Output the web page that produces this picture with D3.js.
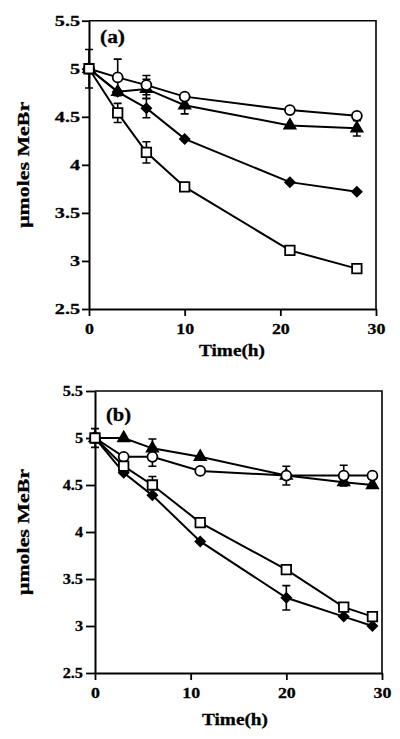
<!DOCTYPE html>
<html><head><meta charset="utf-8">
<script src="https://cdn.jsdelivr.net/npm/d3@7"></script>
<style>
html,body{margin:0;padding:0;background:#fff;}
text{font-family:"Liberation Serif","Times New Roman",serif;font-weight:bold;fill:#000;stroke:#000;stroke-width:0.3px;}
</style></head>
<body>
<svg id="chart" width="400" height="739"></svg>
<script>
// ---------- data ----------
const yTicks = [2.5, 3, 3.5, 4, 4.5, 5, 5.5];
const yTickLabels = ["2.5", "3", "3.5", "4", "4.5", "5", "5.5"];
const xTicks = [0, 10, 20, 30];
const xTickLabels = ["0", "10", "20", "30"];
const yTitle = "\u03BCmoles MeBr";
const xTitle = "Time(h)";

// panel (a)
const timesA = [0, 3, 6, 10, 21, 28];
const circleA   = [5, 4.91, 4.83, 4.71, 4.57, 4.51];
const triangleA = [5, 4.76, 4.79, 4.62, 4.41, 4.38];
const diamondA  = [5, 4.76, 4.59, 4.27, 3.82, 3.72];
const squareA   = [5, 4.54, 4.13, 3.77, 3.11, 2.92];
const circleErrA   = [0, 0.19, 0.10, 0, 0, 0];
const triangleErrA = [0, 0, 0.10, 0.09, 0, 0.08];
const diamondErrA  = [0, 0, 0.10, 0, 0, 0];
const squareErrA   = [0.2, 0.10, 0.11, 0, 0, 0];

// panel (b)
const timesB = [0, 3, 6, 11, 20, 26, 29];
const circleB   = [5, 4.80, 4.80, 4.65, 4.60, 4.60, 4.60];
const triangleB = [5, 5.00, 4.89, 4.80, 4.60, 4.53, 4.50];
const diamondB  = [5, 4.63, 4.39, 3.90, 3.30, 3.10, 3.00];
const squareB   = [5, 4.70, 4.50, 4.10, 3.60, 3.20, 3.10];
const circleErrB   = [0, 0, 0.10, 0, 0.10, 0.11, 0];
const triangleErrB = [0, 0, 0.10, 0, 0, 0, 0];
const diamondErrB  = [0, 0, 0, 0, 0.13, 0, 0];
const squareErrB   = [0.1, 0, 0.09, 0, 0, 0, 0];

// ---------- drawing ----------
const svg = d3.select("#chart");

function stretch(sel, k) {
  sel.each(function () {
    const w = this.getComputedTextLength();
    d3.select(this).attr("textLength", w * k).attr("lengthAdjust", "spacingAndGlyphs");
  });
}

function panel(cfg) {
  const x = d3.scaleLinear().domain([0, 30]).range([cfg.left, cfg.right]);
  const y = d3.scaleLinear().domain([2.5, 5.5]).range([cfg.bottom, cfg.top]);
  const g = svg.append("g");

  // frame top/right
  g.append("path")
    .attr("d", `M${x(0)},${y(5.5)}H${x(30)}V${y(2.5)}`)
    .attr("fill", "none").attr("stroke", "#000").attr("stroke-width", 1.6);

  const yAxis = g.append("g").attr("transform", `translate(${x(0)},0)`)
    .call(d3.axisLeft(y).tickValues(yTicks).tickSize(cfg.yTick).tickSizeOuter(0).tickPadding(cfg.yPad)
      .tickFormat((d, i) => yTickLabels[i]));
  const xAxis = g.append("g").attr("transform", `translate(0,${y(2.5)})`)
    .call(d3.axisBottom(x).tickValues(xTicks).tickSize(7).tickSizeOuter(0).tickPadding(7)
      .tickFormat((d, i) => xTickLabels[i]));
  [yAxis, xAxis].forEach(a => {
    a.select(".domain").attr("stroke-width", 2);
    a.selectAll(".tick line").attr("stroke-width", 1.8);
    a.selectAll("text").attr("font-size", 15.5).attr("font-family", null);
  });
  stretch(yAxis.selectAll("text"), cfg.yStretch);
  stretch(xAxis.selectAll("text"), 1.15);

  // titles
  const yt = g.append("text")
    .attr("transform", `translate(${cfg.yTitleX},${(y(2.5) + y(5.5)) / 2}) rotate(-90)`)
    .attr("text-anchor", "middle").attr("font-size", 17).text(yTitle);
  yt.attr("textLength", 126).attr("lengthAdjust", "spacingAndGlyphs");
  g.append("text").attr("x", cfg.xTitleX).attr("y", cfg.xTitleY)
    .attr("text-anchor", "middle").attr("font-size", 17.5)
    .attr("textLength", 66).attr("lengthAdjust", "spacingAndGlyphs").text(xTitle);
  g.append("text").attr("x", cfg.tagX).attr("y", cfg.tagY)
    .attr("font-size", 18).attr("textLength", 25).attr("lengthAdjust", "spacingAndGlyphs")
    .text(cfg.tag);

  const series = cfg.series;
  const line = d3.line().x(d => x(d[0])).y(d => y(d[1]));

  // error bars
  series.forEach(s => {
    cfg.times.forEach((t, i) => {
      const e = s.err[i];
      if (!e) return;
      const cx = x(t), y1 = y(s.vals[i] + e), y2 = y(s.vals[i] - e);
      g.append("path")
        .attr("d", `M${cx},${y1}V${y2}M${cx - 4},${y1}H${cx + 4}M${cx - 4},${y2}H${cx + 4}`)
        .attr("fill", "none").attr("stroke", "#000").attr("stroke-width", 1.6);
    });
  });

  // lines
  series.forEach(s => {
    g.append("path").datum(cfg.times.map((t, i) => [t, s.vals[i]]))
      .attr("d", line).attr("fill", "none").attr("stroke", "#000").attr("stroke-width", 2);
  });

  // markers
  const shapes = {
    circle: { sym: d3.symbolCircle, size: 78, fill: "#fff", rot: 0 },
    square: { sym: d3.symbolSquare, size: 90, fill: "#fff", rot: 0 },
    triangle: { sym: d3.symbolTriangle, size: 55, fill: "#000", rot: 0 },
    diamond: { sym: d3.symbolSquare, size: 45, fill: "#000", rot: 45 }
  };
  series.forEach(s => {
    const sh = shapes[s.shape];
    const gen = d3.symbol().type(sh.sym).size(sh.size);
    g.append("g").selectAll("path").data(cfg.times.map((t, i) => [t, s.vals[i]])).join("path")
      .attr("d", gen)
      .attr("transform", d => `translate(${x(d[0])},${y(d[1])}) rotate(${sh.rot})`)
      .attr("fill", sh.fill).attr("stroke", "#000").attr("stroke-width", 1.8);
  });
}

panel({
  left: 89, right: 376, top: 20.7, bottom: 309, yTick: 7, yPad: 2, yStretch: 1.3,
  yTitleX: 29, xTitleX: 232, xTitleY: 356, tagX: 100, tagY: 43, tag: "(a)",
  times: timesA,
  series: [
    { shape: "diamond", vals: diamondA, err: diamondErrA },
    { shape: "triangle", vals: triangleA, err: triangleErrA },
    { shape: "circle", vals: circleA, err: circleErrA },
    { shape: "square", vals: squareA, err: squareErrA }
  ]
});

panel({
  left: 95, right: 382, top: 391, bottom: 673, yTick: 9, yPad: 3, yStretch: 1.05,
  yTitleX: 29, xTitleX: 235, xTitleY: 725, tagX: 106, tagY: 421, tag: "(b)",
  times: timesB,
  series: [
    { shape: "diamond", vals: diamondB, err: diamondErrB },
    { shape: "triangle", vals: triangleB, err: triangleErrB },
    { shape: "circle", vals: circleB, err: circleErrB },
    { shape: "square", vals: squareB, err: squareErrB }
  ]
});
</script>
</body></html>
